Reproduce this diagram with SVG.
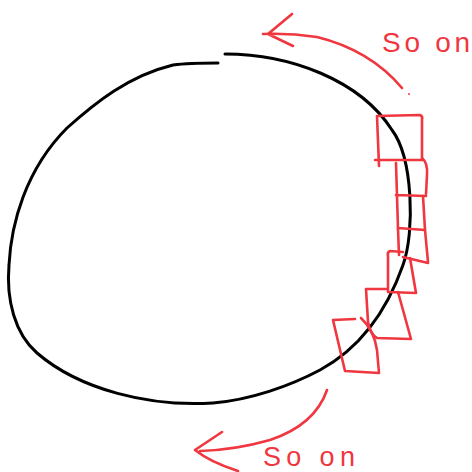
<svg xmlns="http://www.w3.org/2000/svg" width="472" height="472" viewBox="0 0 472 472">
<style>
.ink{fill:none;stroke:#000;stroke-width:3;stroke-linecap:round;stroke-linejoin:round}
.red{fill:none;stroke:#f0363f;stroke-width:2.6;stroke-linecap:round;stroke-linejoin:round}
.lbl{fill:#f0363f;font-family:"Liberation Sans",Arial,sans-serif}
</style>
<rect width="472" height="472" fill="#fff"/>
<g id="loop">
<path class="ink" d="M225,54 C290,54 360,80 392,130 C413,158 415,232 403,265 C396,285 375,340 320,370 C290,386 250,400 213,403 C150,407 80,390 37,353 C15,334 6,300 9,265 C11,225 25,170 67,128 C95,103 128,76 173,65 C188,63 205,63 218,63"/>
</g>
<g id="boxes">
<g id="box1"><path class="red" d="M377,116 L420,115 Q423,116 422,120 L422,158 M375,160 L423,160 M377,116 L379,166"/></g>
<g id="box2"><path class="red" d="M396,163 L397,196 M422,158 Q428,163 427,175 L426,194 M396,195 L426,196"/></g>
<g id="box3"><path class="red" d="M397,196 L398,229 M423,196 L425,230 M398,228 L425,230"/></g>
<g id="box4"><path class="red" d="M398,229 L399,255 M425,230 L428,262 M403,257 L428,263"/></g>
<g id="box5"><path class="red" d="M403,252 L390,251 Q387,252 388,256 L388,292 L416,293 L410,258"/></g>
<g id="box6"><path class="red" d="M387,289 L366,289 L368,322 Q370,334 377,338 L411,339 L398,292"/></g>
<g id="box7"><path class="red" d="M355,319 L333,320 L345,371 L379,373 L377,350 Q374,330 361,318"/></g>
</g>
<g id="connectors">
<path class="red" d="M402,88 Q370,50 317,37 Q290,33 263,34 M292,14 L268,34 L293,46"/>
<circle cx="409" cy="94" r="1" fill="#f0363f"/>
<path class="red" d="M327,390 Q315,425 270,440 Q235,450 200,451 M222,432 L195,450 Q210,462 238,471"/>
</g>
<g id="labels">
<text class="lbl" x="382" y="52" font-size="28" textLength="88" lengthAdjust="spacing">So on</text>
<text class="lbl" x="263" y="466" font-size="27" textLength="92" lengthAdjust="spacing">So on</text>
</g>
</svg>
